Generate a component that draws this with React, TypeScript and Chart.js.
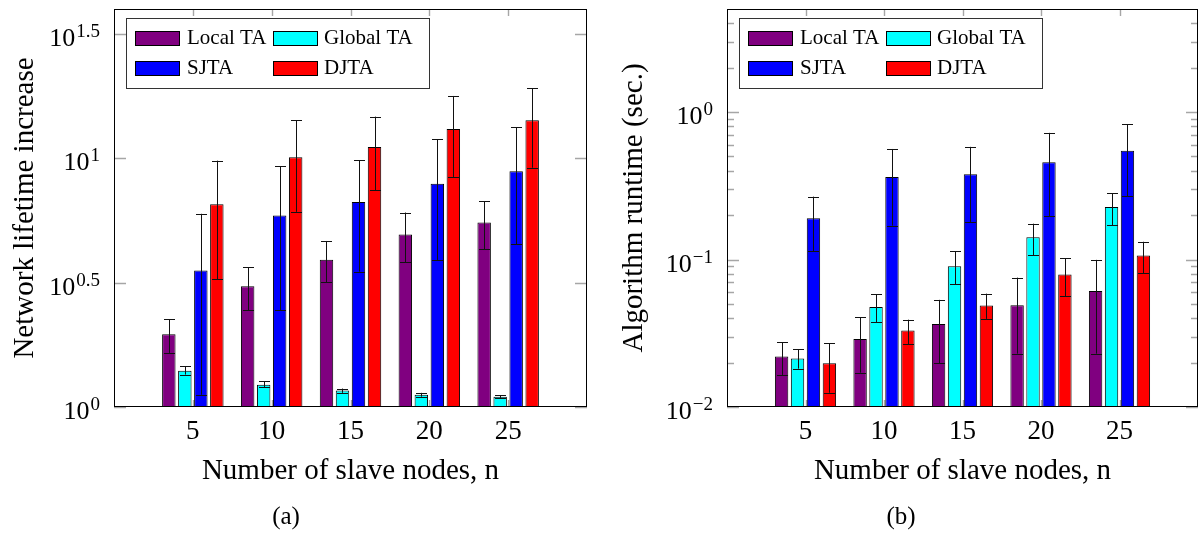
import React, { useEffect, useRef } from 'react';
import { Chart, registerables } from 'chart.js';

Chart.register(...registerables);

const SERIF = '"Liberation Serif", "Times New Roman", Times, serif';

// ---------- shared ----------
const categories = [5, 10, 15, 20, 25];
const xAxisMin = 0;
const xAxisMax = 30;
const seriesNames = ['Local TA', 'Global TA', 'SJTA', 'DJTA'];
const seriesColors = ['#800080', '#00ffff', '#0000ff', '#ff0000'];
const xTitle = 'Number of slave nodes, n';

// ---------- (a) Network lifetime increase ----------
const lifeLocal = [1.96, 3.06, 3.91, 4.94, 5.52];
const lifeLocalLo = [1.65, 2.45, 3.18, 3.81, 4.31];
const lifeLocalHi = [2.25, 3.65, 4.65, 6.05, 6.72];
const lifeGlobal = [1.4, 1.23, 1.164, 1.12, 1.1];
const lifeGlobalLo = [1.35, 1.2, 1.14, 1.1, 1.088];
const lifeGlobalHi = [1.46, 1.27, 1.186, 1.14, 1.115];
const lifeSJTA = [3.54, 5.88, 6.67, 7.89, 8.87];
const lifeSJTALo = [1.12, 2.45, 3.5, 3.9, 4.52];
const lifeSJTAHi = [5.98, 9.29, 9.82, 11.9, 13.3];
const lifeDJTA = [6.53, 10.1, 11.1, 13.1, 14.2];
const lifeDJTALo = [3.26, 6.09, 7.43, 8.41, 9.16];
const lifeDJTAHi = [9.78, 14.2, 14.7, 17.8, 19.1];
const lifeYMin = 1;
const lifeYMax = Math.pow(10, 1.6);
const lifeMajorTicks = [1, Math.pow(10, 0.5), 10, Math.pow(10, 1.5)];
const lifeTickExponents = ['0', '0.5', '1', '1.5'];
const lifeMinorTicks: number[] = [];
const lifeYTitle = 'Network lifetime increase';
const lifeCaption = '(a)';

// ---------- (b) Algorithm runtime ----------
const rtLocal = [0.022, 0.0289, 0.0365, 0.049, 0.0612];
const rtLocalLo = [0.0165, 0.0171, 0.0198, 0.023, 0.023];
const rtLocalHi = [0.0274, 0.0406, 0.0533, 0.0754, 0.0995];
const rtGlobal = [0.0213, 0.0477, 0.0899, 0.1415, 0.227];
const rtGlobalLo = [0.0182, 0.0377, 0.0678, 0.1066, 0.1714];
const rtGlobalHi = [0.0246, 0.058, 0.1137, 0.175, 0.281];
const rtSJTA = [0.1905, 0.363, 0.379, 0.457, 0.547];
const rtSJTALo = [0.1137, 0.17, 0.18, 0.196, 0.268];
const rtSJTAHi = [0.267, 0.562, 0.581, 0.723, 0.826];
const rtDJTA = [0.0198, 0.033, 0.0487, 0.0791, 0.1066];
const rtDJTALo = [0.0125, 0.0267, 0.0396, 0.0562, 0.0809];
const rtDJTAHi = [0.027, 0.0391, 0.0587, 0.102, 0.132];
const rtYMin = 0.01;
const rtYMax = 5;
const rtMajorTicks = [0.01, 0.1, 1];
const rtTickExponents = ['\u22122', '\u22121', '0'];
const rtMinorTicks = [0.02, 0.03, 0.04, 0.05, 0.06, 0.07, 0.08, 0.09, 0.2, 0.3, 0.4, 0.5, 0.6, 0.7, 0.8, 0.9, 2, 3, 4];
const rtYTitle = 'Algorithm runtime (sec.)';
const rtCaption = '(b)';

type PanelSpec = {
  values: number[][];
  lows: number[][];
  highs: number[][];
  yMin: number;
  yMax: number;
  majorTicks: number[];
  exponents: string[];
  minorTicks: number[];
  yTitle: string;
  caption: string;
  captionX: number;
  yTitleX: number;
  canvasLeft: number;
  canvasWidth: number;
  padding: { left: number; right: number; top: number; bottom: number };
};

const panelA: PanelSpec = {
  values: [lifeLocal, lifeGlobal, lifeSJTA, lifeDJTA],
  lows: [lifeLocalLo, lifeGlobalLo, lifeSJTALo, lifeDJTALo],
  highs: [lifeLocalHi, lifeGlobalHi, lifeSJTAHi, lifeDJTAHi],
  yMin: lifeYMin,
  yMax: lifeYMax,
  majorTicks: lifeMajorTicks,
  exponents: lifeTickExponents,
  minorTicks: lifeMinorTicks,
  yTitle: lifeYTitle,
  caption: lifeCaption,
  captionX: 286,
  yTitleX: 33,
  canvasLeft: 0,
  canvasWidth: 600,
  padding: { left: 114, right: 13, top: 9, bottom: 127 },
};

const panelB: PanelSpec = {
  values: [rtLocal, rtGlobal, rtSJTA, rtDJTA],
  lows: [rtLocalLo, rtGlobalLo, rtSJTALo, rtDJTALo],
  highs: [rtLocalHi, rtGlobalHi, rtSJTAHi, rtDJTAHi],
  yMin: rtYMin,
  yMax: rtYMax,
  majorTicks: rtMajorTicks,
  exponents: rtTickExponents,
  minorTicks: rtMinorTicks,
  yTitle: rtYTitle,
  caption: rtCaption,
  captionX: 301,
  yTitleX: 42,
  canvasLeft: 600,
  canvasWidth: 601,
  padding: { left: 127, right: 3, top: 9, bottom: 127 },
};

const TICK_COLOR = '#a6a6a6';

function drawPow(ctx: CanvasRenderingContext2D, rightX: number, tickY: number, exp: string) {
  ctx.textAlign = 'left';
  ctx.textBaseline = 'alphabetic';
  ctx.font = `26px ${SERIF}`;
  const bw = ctx.measureText('10').width;
  ctx.font = `19px ${SERIF}`;
  const ew = ctx.measureText(exp).width;
  const x0 = rightX - ew - 1 - bw;
  ctx.font = `26px ${SERIF}`;
  ctx.fillText('10', x0, tickY + 12);
  ctx.font = `19px ${SERIF}`;
  ctx.fillText(exp, x0 + bw + 1, tickY + 3);
}

function makeDecor(spec: PanelSpec) {
  return {
    id: 'decor',
    beforeDatasetsDraw(chart: any) {
      const ctx: CanvasRenderingContext2D = chart.ctx;
      const a = chart.chartArea;
      const xs = chart.scales.x;
      const ys = chart.scales.y;
      ctx.save();
      ctx.strokeStyle = TICK_COLOR;
      ctx.lineWidth = 1.4;
      ctx.beginPath();
      for (const c of categories) {
        const px = Math.round(xs.getPixelForValue(c)) + 0.5;
        ctx.moveTo(px, a.top);
        ctx.lineTo(px, a.top + 7);
        ctx.moveTo(px, a.bottom);
        ctx.lineTo(px, a.bottom - 7);
      }
      for (const v of spec.majorTicks) {
        const py = Math.round(ys.getPixelForValue(v)) + 0.5;
        ctx.moveTo(a.left, py);
        ctx.lineTo(a.left + 12, py);
        ctx.moveTo(a.right, py);
        ctx.lineTo(a.right - 12, py);
      }
      for (const v of spec.minorTicks) {
        const py = Math.round(ys.getPixelForValue(v)) + 0.5;
        ctx.moveTo(a.left, py);
        ctx.lineTo(a.left + 7, py);
        ctx.moveTo(a.right, py);
        ctx.lineTo(a.right - 7, py);
      }
      ctx.stroke();
      ctx.restore();
    },
    afterDatasetsDraw(chart: any) {
      const ctx: CanvasRenderingContext2D = chart.ctx;
      const a = chart.chartArea;
      const xs = chart.scales.x;
      const ys = chart.scales.y;
      ctx.save();

      // error bars
      ctx.strokeStyle = '#111';
      ctx.lineWidth = 1;
      for (let i = 0; i < seriesNames.length; i++) {
        const meta = chart.getDatasetMeta(i);
        meta.data.forEach((el: any, j: number) => {
          const cx = Math.round(el.x) + 0.5;
          const yHi = ys.getPixelForValue(spec.highs[i][j]);
          const yLo = ys.getPixelForValue(spec.lows[i][j]);
          ctx.beginPath();
          ctx.moveTo(cx, yHi);
          ctx.lineTo(cx, yLo);
          ctx.moveTo(cx - 5.5, Math.round(yHi) + 0.5);
          ctx.lineTo(cx + 5.5, Math.round(yHi) + 0.5);
          ctx.moveTo(cx - 5.5, Math.round(yLo) + 0.5);
          ctx.lineTo(cx + 5.5, Math.round(yLo) + 0.5);
          ctx.stroke();
        });
      }

      // frame
      ctx.strokeStyle = '#000';
      ctx.lineWidth = 1;
      ctx.strokeRect(a.left + 0.5, a.top + 0.5, a.right - a.left - 1, a.bottom - a.top - 1);

      // legend
      const lx = a.left + 12;
      const ly = a.top + 9.3;
      ctx.fillStyle = '#fff';
      ctx.fillRect(lx, ly, 303, 70);
      ctx.strokeStyle = '#333';
      ctx.strokeRect(Math.round(lx) + 0.5, Math.round(ly) + 0.5, 303, 70);
      const colSw = [a.left + 21, a.left + 159];
      const colTx = [a.left + 73, a.left + 210];
      const rowSw = [a.top + 22, a.top + 52];
      const rowTx = [a.top + 34.5, a.top + 64.5];
      ctx.font = `21px ${SERIF}`;
      ctx.textAlign = 'left';
      ctx.textBaseline = 'alphabetic';
      seriesNames.forEach((name, i) => {
        const col = i % 2;
        const row = Math.floor(i / 2);
        const sx = Math.round(colSw[col]);
        const sy = Math.round(rowSw[row]);
        ctx.fillStyle = seriesColors[i];
        ctx.fillRect(sx, sy, 45, 15);
        ctx.strokeStyle = '#000';
        ctx.strokeRect(sx + 0.5, sy + 0.5, 44, 14);
        ctx.fillStyle = '#000';
        ctx.fillText(name, colTx[col], rowTx[row]);
      });

      // y tick labels
      ctx.fillStyle = '#000';
      spec.majorTicks.forEach((v, i) => {
        drawPow(ctx, a.left - 14, ys.getPixelForValue(v), spec.exponents[i]);
      });

      // x tick labels
      ctx.font = `27px ${SERIF}`;
      ctx.textAlign = 'center';
      ctx.textBaseline = 'alphabetic';
      for (const c of categories) {
        ctx.fillText(String(c), xs.getPixelForValue(c), a.bottom + 31.5);
      }

      // x title
      ctx.font = `29px ${SERIF}`;
      ctx.fillText(xTitle, (a.left + a.right) / 2, a.bottom + 71.5);

      // y title
      ctx.save();
      ctx.translate(spec.yTitleX, (a.top + a.bottom) / 2);
      ctx.rotate(-Math.PI / 2);
      ctx.textAlign = 'center';
      ctx.fillText(spec.yTitle, 0, 0);
      ctx.restore();

      // caption
      ctx.font = `25px ${SERIF}`;
      ctx.textAlign = 'center';
      ctx.fillText(spec.caption, spec.captionX, 524);

      ctx.restore();
    },
  };
}

function Panel({ spec }: { spec: PanelSpec }) {
  const ref = useRef<HTMLCanvasElement>(null);
  useEffect(() => {
    const canvas = ref.current;
    if (!canvas) return;
    const datasets = seriesNames.map((name, i) => ({
      label: name,
      data: categories.map((c, j) => ({ x: c, y: spec.values[i][j] })),
      backgroundColor: seriesColors[i],
      borderColor: '#000',
      borderWidth: 1,
      categoryPercentage: 0.812,
      barPercentage: 0.84,
    }));
    const chart = new Chart(canvas, {
      type: 'bar',
      data: { datasets } as any,
      options: {
        animation: false,
        responsive: false,
        devicePixelRatio: 1,
        layout: { padding: spec.padding },
        plugins: { legend: { display: false }, tooltip: { enabled: false } },
        scales: {
          x: {
            type: 'linear',
            min: xAxisMin,
            max: xAxisMax,
            offset: false,
            display: false,
            ticks: { stepSize: 5 },
          },
          y: {
            type: 'logarithmic',
            min: spec.yMin,
            max: spec.yMax,
            display: false,
          },
        },
      } as any,
      plugins: [makeDecor(spec) as any],
    });
    return () => chart.destroy();
  }, [spec]);
  return (
    <canvas
      ref={ref}
      width={spec.canvasWidth}
      height={534}
      style={{ position: 'absolute', left: spec.canvasLeft, top: 0, width: spec.canvasWidth, height: 534 }}
    />
  );
}

export default function App() {
  return (
    <div style={{ position: 'absolute', left: 0, top: 0, width: 1201, height: 534, background: '#fff' }}>
      <Panel spec={panelA} />
      <Panel spec={panelB} />
    </div>
  );
}
